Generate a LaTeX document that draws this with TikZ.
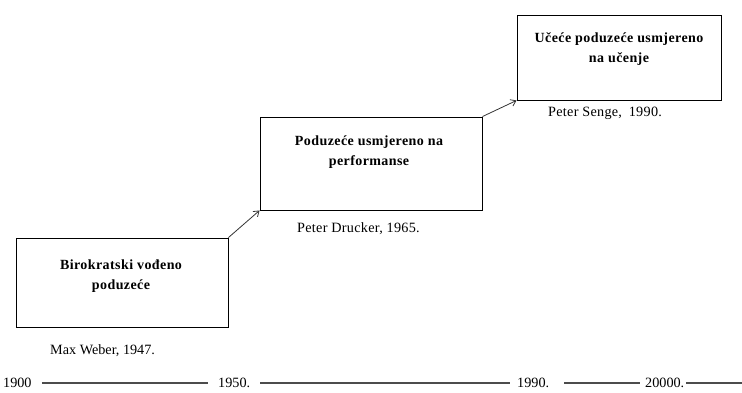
\documentclass[tikz,border=0pt]{standalone}
\usepackage{fontspec}
\setmainfont{Liberation Serif}
\newfontfamily\titlefont[LetterSpace=3]{Liberation Serif}
\newfontfamily\authorfont[LetterSpace=2]{Liberation Serif}
\usetikzlibrary{arrows.meta}
\begin{document}
\begin{tikzpicture}[x=1pt,y=-1pt,
  box/.style={draw, line width=0.9pt, inner sep=0pt},
  title/.style={font=\titlefont\fontsize{14}{20.5}\selectfont\bfseries, align=center, anchor=north},
  author/.style={font=\fontsize{14.2}{16}\selectfont, anchor=west, inner sep=0pt},
  author2/.style={font=\authorfont\fontsize{14.2}{16}\selectfont, anchor=west, inner sep=0pt},
  year/.style={font=\fontsize{14.2}{16}\selectfont, inner sep=0pt},
  tl/.style={draw=black!70, line width=1.3pt},
  arr/.style={draw=black!80, line width=0.8pt, -{Straight Barb[length=5pt,width=7pt]}}]
\useasboundingbox (0,0) rectangle (742,392);
% boxes
\node[box, minimum width=212pt, minimum height=89pt] (b1) at (122,282.5) {};
\node[box, minimum width=222pt, minimum height=93pt] (b2) at (371,163.5) {};
\node[box, minimum width=204pt, minimum height=85pt] (b3) at (619,57.5) {};
% titles
\node[title] (t1) at (121,256) {Birokratski vođeno\\poduzeće};
\node[title] (t2) at (369,132) {Poduzeće usmjereno na\\performanse};
\node[title] (t3) at (619,29) {Učeće poduzeće usmjereno\\na učenje};
% authors
\node[author] (a1) at (50,351) {Max Weber, 1947.};
\node[author2] (a2) at (297,229) {Peter Drucker, 1965.};
\node[author2] (a3) at (548,113) {Peter Senge,\hspace{3pt} 1990.};
% arrows
\draw[arr] (b1.north east) -- (b2.south west);
\draw[arr] (b2.north east) -- (b3.south west);
% timeline
\node[year, anchor=west] (y1) at (3,383) {1900};
\node[year, anchor=west] (y2) at (218,383) {1950.};
\node[year, anchor=west] (y3) at (517,383) {1990.};
\node[year, anchor=west] (y4) at (645,383) {20000.};
\coordinate (yend) at (742,383);
\draw[tl] ([xshift=10pt]y1.east) -- ([xshift=-10pt]y2.west);
\draw[tl] ([xshift=10pt]y2.east) -- ([xshift=-7pt]y3.west);
\draw[tl] ([xshift=15pt]y3.east) -- ([xshift=-5pt]y4.west);
\draw[tl] ([xshift=2pt]y4.east) -- (yend);
\end{tikzpicture}
\end{document}
